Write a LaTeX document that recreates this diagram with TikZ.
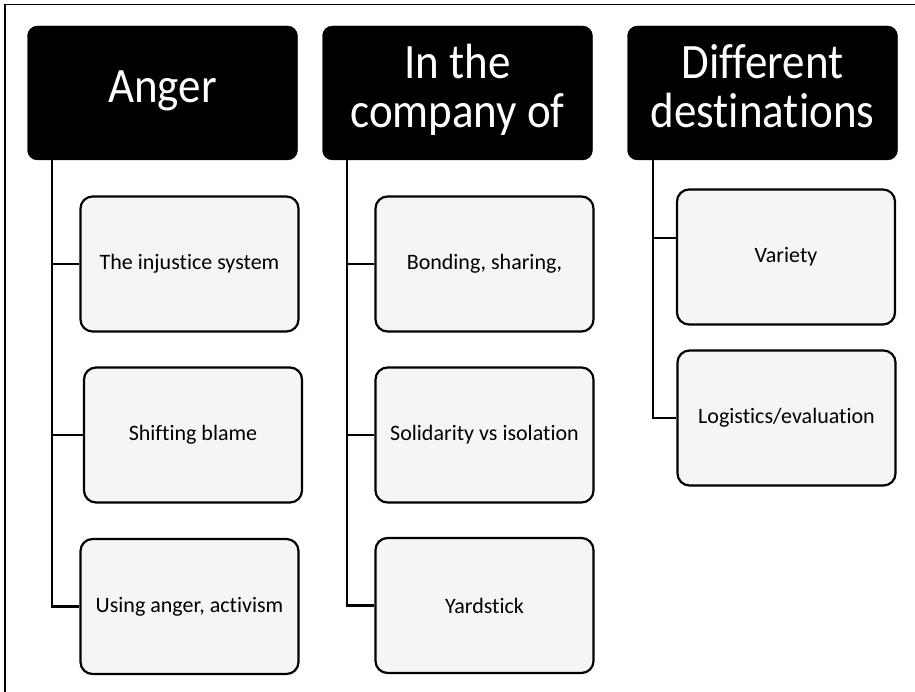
\documentclass[tikz,border=0pt]{standalone}
\usepackage{fontspec}
\setmainfont[Ligatures={NoCommon}]{Carlito}
\definecolor{childfill}{HTML}{F5F5F5}
\newcommand\hdrtext[1]{\scalebox{1}[1.1]{\begin{tabular}{@{}c@{}}#1\end{tabular}}}
\begin{document}
\begin{tikzpicture}[x=1pt,y=-1pt,
  header/.style={draw=black,fill=black,rounded corners=10pt,text=white,
    minimum width=270pt,minimum height=134pt,inner sep=0pt,align=center,
    font=\fontsize{45}{44.5}\selectfont},
  child/.style={draw=black,line width=2.2pt,fill=childfill,rounded corners=12pt,
    minimum width=218pt,minimum height=135pt,inner sep=0pt,align=center,
    font=\fontsize{22}{26}\selectfont},
  conn/.style={draw=black,line width=2.2pt},
  frame/.style={draw=black,line width=1.3pt}]
\useasboundingbox (0,0) rectangle (915,692);
% frame (top and left only)
\coordinate (fa) at (915,4.5);
\coordinate (fb) at (5,4.5);
\coordinate (fc) at (5,692);
\draw[frame] (fa) -- (fb) -- (fc);
% headers
\node[header] (h1) at (162.5,93) {\hdrtext{Anger}};
\node[header] (h2) at (457.5,93) {\hdrtext{In the\\company of}};
\node[header] (h3) at (762.5,93) {\hdrtext{Different\\destinations}};
% children column 1
\node[child] (a1) at (189.5,264) {The injustice system};
\node[child] (a2) at (193,435) {Shifting blame};
\node[child] (a3) at (189.5,606.5) {Using anger, activism};
% children column 2
\node[child] (b1) at (484.5,264) {Bonding, sharing,};
\node[child] (b2) at (484.5,435) {Solidarity vs isolation};
\node[child] (b3) at (484.5,605.5) {Yardstick};
% children column 3
\node[child] (d1) at (786,257) {Variety};
\node[child] (d2) at (786.5,418) {Logistics/evaluation};
% connectors
\coordinate (ta) at ([xshift=25pt]h1.south west);
\coordinate (tb) at ([xshift=25pt]h2.south west);
\coordinate (td) at ([xshift=26pt]h3.south west);
\coordinate (d1c) at ([yshift=19pt]d1.west);
\draw[conn] (ta) |- (a3.west);
\draw[conn] (a1.west) -- (a1.west -| ta);
\draw[conn] (a2.west) -- (a2.west -| ta);
\draw[conn] (tb) |- (b3.west);
\draw[conn] (b1.west) -- (b1.west -| tb);
\draw[conn] (b2.west) -- (b2.west -| tb);
\draw[conn] (td) |- (d2.west);
\draw[conn] (d1c) -- (d1c -| td);
\end{tikzpicture}
\end{document}
